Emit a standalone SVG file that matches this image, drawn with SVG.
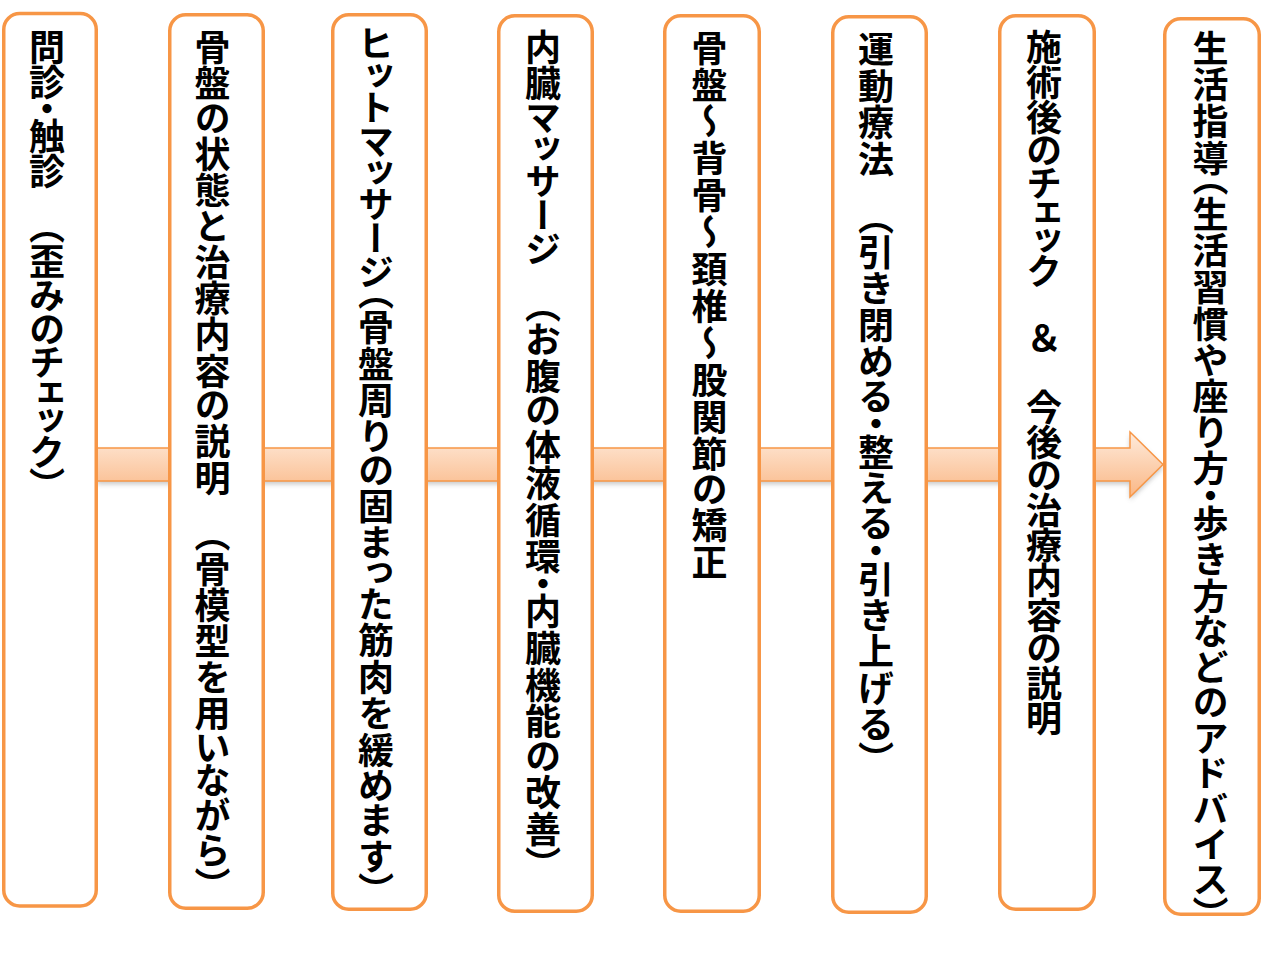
<svg xmlns="http://www.w3.org/2000/svg" width="1262" height="962" viewBox="0 0 1262 962">
<style>
.box{fill:#FFFFFF;stroke:#F79646;stroke-width:3.5}
.lbl{font-family:"Noto Sans CJK JP","Noto Sans",sans-serif;font-size:36px;font-weight:bold;fill:#000000;writing-mode:vertical-rl;text-orientation:upright;font-feature-settings:"vpal"}
</style>
<defs>
<linearGradient id="ag" x1="0" y1="0" x2="0" y2="1">
<stop offset="0" stop-color="#FEEBDC"/>
<stop offset="1" stop-color="#FAB785"/>
</linearGradient>
<filter id="sh" x="-5%" y="-50%" width="110%" height="200%">
<feGaussianBlur stdDeviation="2.5"/>
</filter>
</defs>
<rect width="1262" height="962" fill="#FFFFFF"/>
<g id="connectors">
<polygon points="97,451 1130,451 1130,435 1163,467.5 1130,500 1130,484 97,484" fill="#808080" opacity="0.45" filter="url(#sh)"/>
<polygon points="97,448 1130,448 1130,432 1163,464.5 1130,497 1130,481 97,481" fill="url(#ag)" stroke="#F79646" stroke-width="1.5" stroke-linejoin="miter"/>
</g>
<g id="node1"><rect class="box" x="3.75" y="13.5" width="92.5" height="892.5" rx="16"/><text class="lbl" x="47" y="29" style="letter-spacing:-0.3px">問診・触診　（歪みのチェック）</text></g>
<g id="node2"><rect class="box" x="169.75" y="14.75" width="93.5" height="893.5" rx="16"/><text class="lbl" x="212.5" y="29" style="letter-spacing:0.3px">骨盤の状態と治療内容の説明　（骨模型を用いながら）</text></g>
<g id="node3"><rect class="box" x="332.75" y="14.75" width="93.5" height="894.5" rx="16"/><text class="lbl" x="376" y="27" style="letter-spacing:0.6px">ヒットマッサージ（骨盤周りの固まった筋肉を緩めます）</text></g>
<g id="node4"><rect class="box" x="498.75" y="15.75" width="93.5" height="895.5" rx="16"/><text class="lbl" x="543" y="29" style="letter-spacing:0.55px">内臓マッサージ　（お腹の体液循環・内臓機能の改善）</text></g>
<g id="node5"><rect class="box" x="664.75" y="15.75" width="94.5" height="895.5" rx="16"/><text class="lbl" x="709.5" y="30" style="letter-spacing:0.9px">骨盤～背骨～頚椎～股関節の矯正</text></g>
<g id="node6"><rect class="box" x="832.75" y="16.75" width="93.5" height="895.5" rx="16"/><text class="lbl" x="876" y="31" style="letter-spacing:0.9px">運動療法　（引き閉める・整える・引き上げる）</text></g>
<g id="node7"><rect class="box" x="999.75" y="15.75" width="94.5" height="893.5" rx="16"/><text class="lbl" x="1044" y="29" style="letter-spacing:-1px">施術後のチェック　＆　今後の治療内容の説明</text></g>
<g id="node8"><rect class="box" x="1164.75" y="18.75" width="94.5" height="895.5" rx="16"/><text class="lbl" x="1210.5" y="30" style="letter-spacing:0.8px">生活指導（生活習慣や座り方・歩き方などのアドバイス）</text></g>
</svg>
